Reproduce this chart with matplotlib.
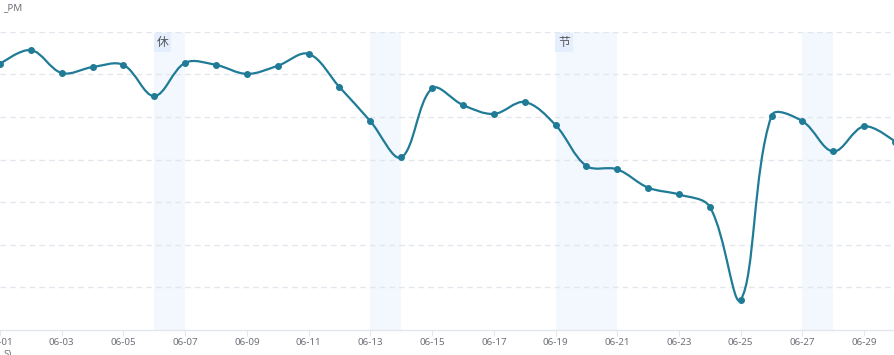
import numpy as np
import matplotlib
matplotlib.use("Agg")
import matplotlib.pyplot as plt
from matplotlib.path import Path
from matplotlib.patches import PathPatch

plt.rcParams['font.family'] = ['Noto Sans', 'Noto Sans CJK SC', 'DejaVu Sans']

# ---------------- data ----------------
dates = [f"06-{d:02d}" for d in range(1, 31)]
values = [624, 657, 603, 617, 622, 549, 627, 622, 601, 620,
          648, 570, 490, 405, 567, 528, 507, 535, 481, 385,
          377, 334, 318, 289, 71, 503, 490, 419, 478, 442]
bands = [("06-06", "06-07", "休"), ("06-13", "06-14", ""),
         ("06-19", "06-21", "节"), ("06-27", "06-28", "")]
y_name = "_PM"

# ---------------- style ----------------
W, H, DPI = 895, 355, 100
line_color = "#1f7b96"
grid_color = "#e3e6ec"
band_color = "#f3f8ff"
text_color = "#6e7079"

fig = plt.figure(figsize=(W / DPI, H / DPI), dpi=DPI)
ax_left, ax_right = 0 / W, 895 / W
ax_top, ax_bottom = 31.7, 330
ax = fig.add_axes([ax_left, (H - ax_bottom) / H, ax_right - ax_left, (ax_bottom - ax_top) / H])

x = np.arange(len(dates))
ax.set_xlim(0, len(dates) - 1)
ax.set_ylim(0, 700)

# bands
idx = {d: i for i, d in enumerate(dates)}
for a, b, lab in bands:
    ax.axvspan(idx[a], idx[b], color=band_color, zorder=0, lw=0)
    if lab:
        ax.text(idx[a] + 0.08, 690, lab, ha="left", va="top", fontsize=8.5,
                color="#555555", zorder=3,
                bbox=dict(boxstyle="square,pad=0.25", fc="#e4eefc", ec="none"))

# grid
for gy in range(100, 701, 100):
    ax.axhline(gy, color=grid_color, lw=1.0, ls=(0, (4, 3)), zorder=1)

# smooth line (bezier smoothing computed in pixel space)
fig.canvas.draw()
pts = ax.transData.transform(np.column_stack([x, values]))
smooth = 0.35
verts = [tuple(pts[0])]
codes = [Path.MOVETO]
cp0 = pts[0].copy()
n = len(pts)
for k in range(1, n):
    p = pts[k]
    prev = pts[k - 1]
    if k < n - 1:
        nxt = pts[k + 1]
        v = nxt - prev
        l0 = np.hypot(*(p - prev))
        l1 = np.hypot(*(nxt - p))
        r = l1 / (l0 + l1)
        cp1 = p - v * smooth * (1 - r)
        ncp0 = p + v * smooth * r
    else:
        cp1 = p.copy()
        ncp0 = p.copy()
    verts += [tuple(cp0), tuple(cp1), tuple(p)]
    codes += [Path.CURVE4] * 3
    cp0 = ncp0
verts_data = ax.transData.inverted().transform(np.array(verts))
patch = PathPatch(Path(verts_data, codes), fill=False, ec=line_color, lw=1.6,
                  zorder=4, clip_on=False)
ax.add_patch(patch)
ax.plot(x, values, ls="none", marker="o", ms=4, color=line_color, zorder=5, clip_on=False)

# axes styling
for s in ["top", "right", "left"]:
    ax.spines[s].set_visible(False)
ax.spines["bottom"].set_color(grid_color)
ax.spines["bottom"].set_linewidth(1.0)
ax.set_yticks([])
ax.set_xticks(x[::2])
ax.set_xticklabels(dates[::2], fontsize=7, color=text_color)
ax.tick_params(axis="x", length=4, color=grid_color, pad=2)

fig.text(3 / W, 1 - 8 / H, y_name, fontsize=7, color=text_color, ha="left", va="center")
fig.text(8 / W, 1 - 354 / H, "S)", fontsize=7, color=text_color, ha="center", va="center")

fig.savefig("out.png", dpi=DPI)
